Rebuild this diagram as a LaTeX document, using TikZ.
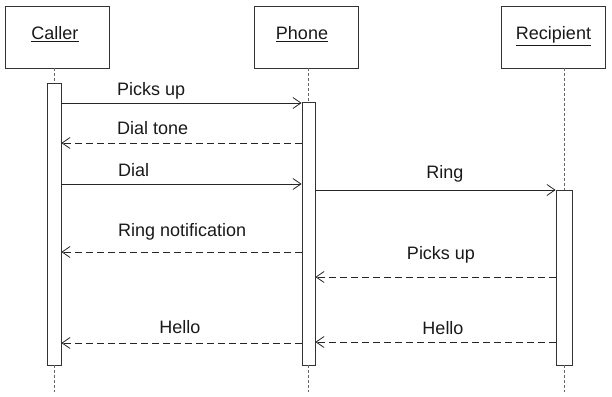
\documentclass[tikz,border=0pt]{standalone}
\usepackage{fontspec}
\setmainfont{Liberation Sans}
\usetikzlibrary{arrows.meta}
\begin{document}
\begin{tikzpicture}[x=1pt,y=-1pt,
  font=\fontsize{18}{21}\selectfont,
  actor/.style={draw=black!80,line width=0.8pt,minimum width=104pt,minimum height=62pt,inner sep=0pt},
  bar/.style={draw=black!80,line width=0.8pt,fill=white,inner sep=0pt},
  life/.style={draw=black!60,line width=0.6pt,dash pattern=on 3pt off 2pt},
  msg/.style={draw=black!85,line width=0.8pt,-{Straight Barb[length=8pt,width=11pt,line width=0.8pt]}},
  ret/.style={msg,dash pattern=on 7pt off 4pt},
  lbl/.style={inner sep=0pt,text=black!90}]
\useasboundingbox (0,0) rectangle (612,396);
% actors
\node[actor] (cbox) at (57,37) {};
\node[actor] (pbox) at (306,37) {};
\node[actor] (rbox) at (553.5,37) {};
\node[lbl,anchor=base] (ctext) at (55,40) {\underline{Caller}};
\node[lbl,anchor=base] (ptext) at (302,40) {\underline{Phone}};
\node[lbl,anchor=base] (rtext) at (553.5,40) {\underline{Recipient}};
% activation bars
\node[bar,minimum width=14pt,minimum height=282pt] (cbar) at (54,224) {};
\node[bar,minimum width=13pt,minimum height=263pt] (pbar) at (308.5,233.5) {};
\node[bar,minimum width=16pt,minimum height=175pt] (rbar) at (564,277.5) {};
% lifeline ends
\coordinate (cend) at (54,392);
\coordinate (pend) at (308.5,392);
\coordinate (rend) at (564,392);
\draw[life] (cbox.south -| cbar.north) -- (cbar.north);
\draw[life] (cbar.south) -- (cend);
\draw[life] (pbox.south -| pbar.north) -- (pbar.north);
\draw[life] (pbar.south) -- (pend);
\draw[life] (rbox.south -| rbar.north) -- (rbar.north);
\draw[life] (rbar.south) -- (rend);
% message rows
\coordinate (m1) at (0,103);
\coordinate (m2) at (0,143);
\coordinate (m3) at (0,184);
\coordinate (m4) at (0,190);
\coordinate (m5) at (0,252);
\coordinate (m6) at (0,277);
\coordinate (m7) at (0,343);
\coordinate (m8) at (0,342);
\draw[msg] (cbar.east |- m1) -- (pbar.west |- m1);
\draw[ret] (pbar.west |- m2) -- (cbar.east |- m2);
\draw[msg] (cbar.east |- m3) -- (pbar.west |- m3);
\draw[msg] (pbar.east |- m4) -- (rbar.west |- m4);
\draw[ret] (pbar.west |- m5) -- (cbar.east |- m5);
\draw[ret] (rbar.west |- m6) -- (pbar.east |- m6);
\draw[ret] (pbar.west |- m7) -- (cbar.east |- m7);
\draw[ret] (rbar.west |- m8) -- (pbar.east |- m8);
% labels
\node[lbl,anchor=base west] (l1) at (117,95) {Picks up};
\node[lbl,anchor=base west] (l2) at (117,134) {Dial tone};
\node[lbl,anchor=base west] (l3) at (118,176) {Dial};
\node[lbl,anchor=base] (l4) at (445,178) {Ring};
\node[lbl,anchor=base west] (l5) at (118,236) {Ring notification};
\node[lbl,anchor=base] (l6) at (441,259) {Picks up};
\node[lbl,anchor=base] (l7) at (180,333) {Hello};
\node[lbl,anchor=base] (l8) at (443,334) {Hello};
\end{tikzpicture}
\end{document}
